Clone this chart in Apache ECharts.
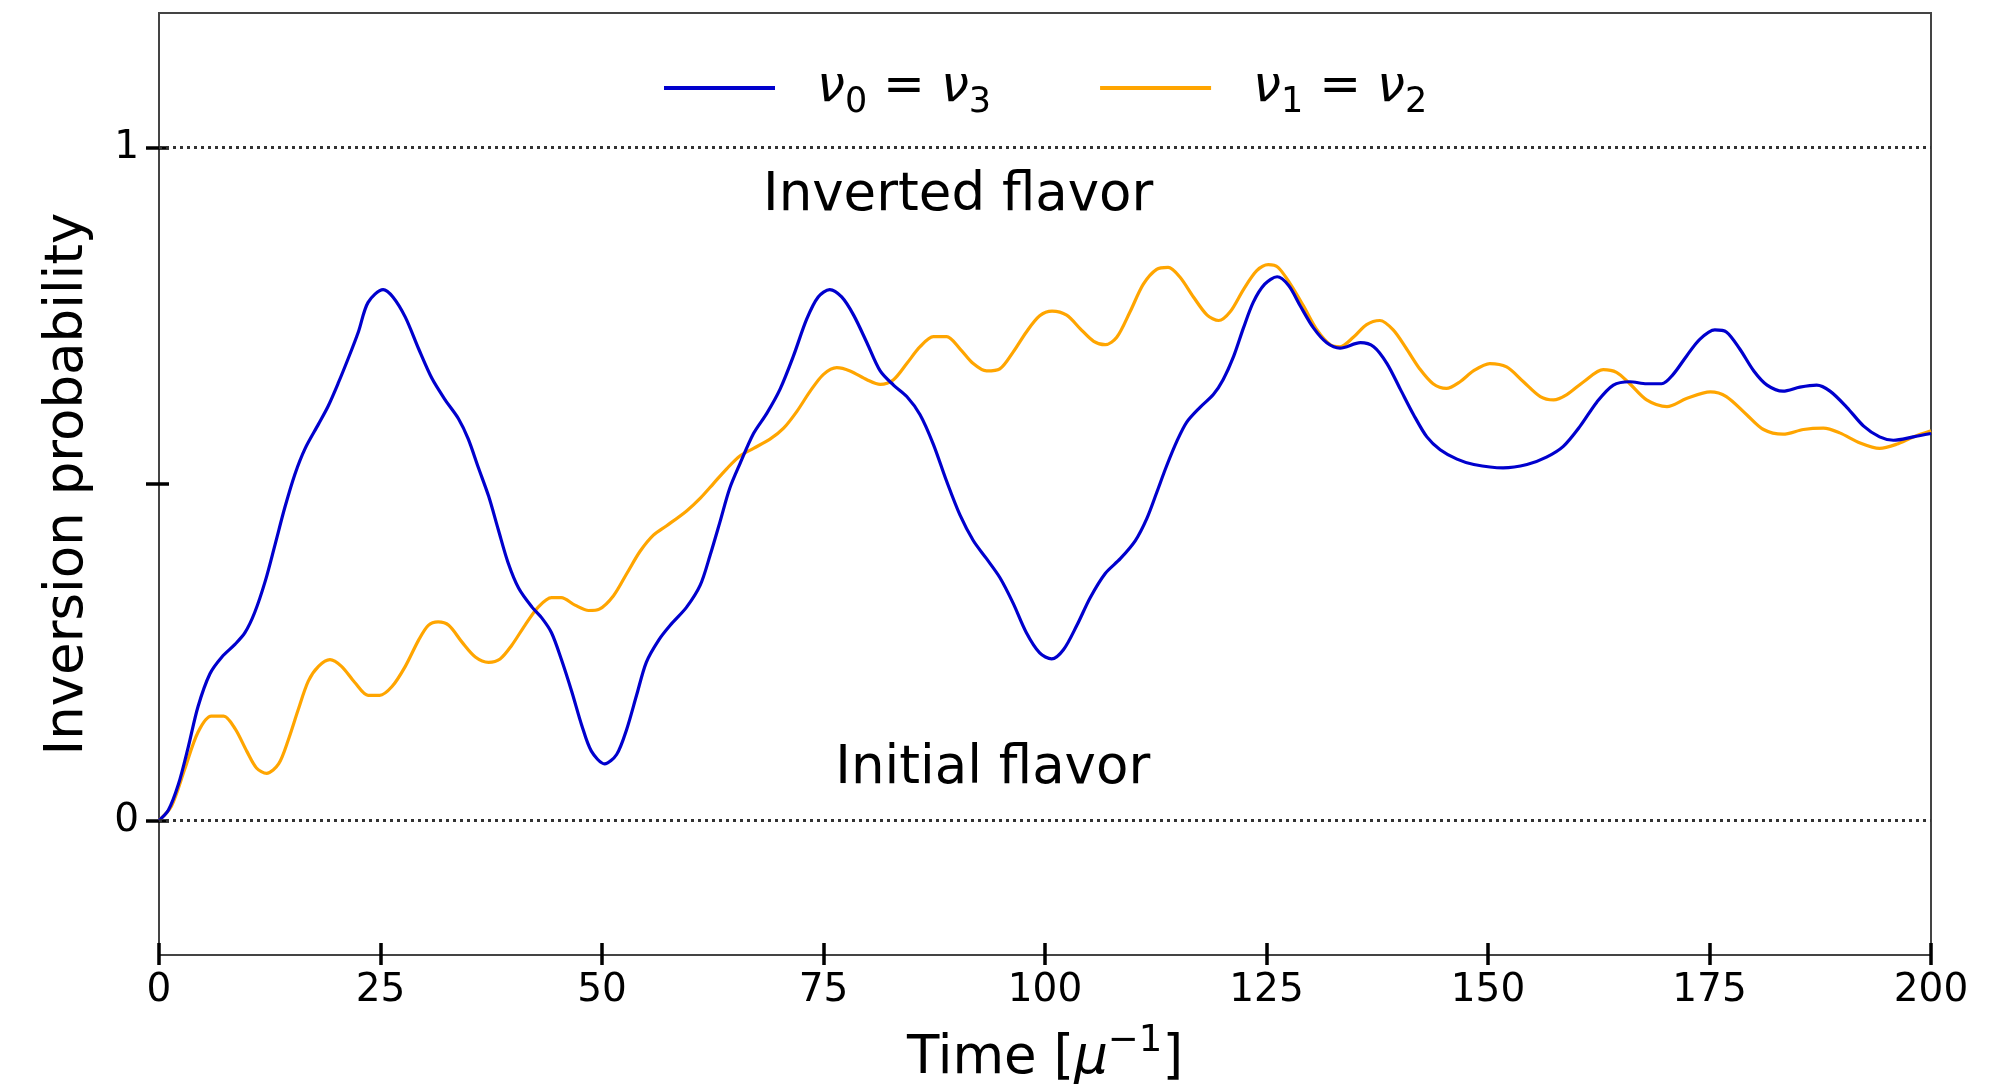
<!DOCTYPE html>
<html>
<head>
<meta charset="utf-8">
<script src="https://cdn.jsdelivr.net/npm/echarts@6/dist/echarts.min.js"></script>
<style>
  html, body { margin: 0; padding: 0; background: #fff; }
  #chart { width: 2012px; height: 1086px; }
</style>
</head>
<body>
<div id="chart"></div>
<script>
// values: [time, inversion probability]
const seriesNames = ["nu0=nu3", "nu1=nu2"]
const seriesColors = ["#0000CD", "#FFA500"]

const blueCurve = [
  [0, 0], [1.05, 0.015], [2.2, 0.054], [3.3, 0.109], [4.4, 0.169], [5.75, 0.218], [7.1, 0.243],
  [8.6, 0.262], [9.7, 0.279], [10.8, 0.309], [12.0, 0.356], [13.1, 0.41], [14.2, 0.465],
  [15.35, 0.515], [16.5, 0.553], [18.0, 0.589], [19.1, 0.616], [20.2, 0.649], [21.4, 0.688],
  [22.5, 0.726], [23.6, 0.77], [25.3, 0.789], [26.4, 0.778], [27.8, 0.748], [29.3, 0.701],
  [30.8, 0.657], [32.3, 0.625], [33.8, 0.597], [34.9, 0.567], [36.0, 0.526], [37.2, 0.482],
  [38.3, 0.432], [39.4, 0.383], [40.6, 0.345], [42.1, 0.317], [43.2, 0.301], [44.3, 0.279],
  [45.4, 0.24], [46.6, 0.191], [47.7, 0.142], [48.8, 0.103], [50.3, 0.084], [51.65, 0.098],
  [52.8, 0.136], [53.9, 0.186], [55.0, 0.235], [56.4, 0.268], [57.7, 0.29], [59.55, 0.317],
  [61.1, 0.35], [62.2, 0.394], [63.3, 0.443], [64.4, 0.493], [65.6, 0.531], [67.1, 0.575],
  [68.6, 0.605], [70.1, 0.641], [71.6, 0.69], [73.1, 0.745], [74.4, 0.778], [75.7, 0.789],
  [77.05, 0.778], [78.4, 0.751], [79.9, 0.71], [81.4, 0.668], [82.9, 0.647], [84.4, 0.63],
  [85.9, 0.603], [87.4, 0.559], [88.9, 0.504], [90.4, 0.454], [91.9, 0.416], [93.4, 0.389],
  [94.9, 0.361], [96.4, 0.323], [97.9, 0.279], [99.4, 0.249], [100.75, 0.24], [102.1, 0.254],
  [103.6, 0.29], [105.1, 0.331], [106.8, 0.367], [108.5, 0.389], [110.2, 0.416], [111.5, 0.449],
  [112.6, 0.487], [113.7, 0.526], [114.9, 0.564], [116.0, 0.592], [117.5, 0.614], [119.0, 0.633],
  [120.1, 0.655], [121.3, 0.69], [122.4, 0.732], [123.5, 0.77], [124.8, 0.797], [126.2, 0.808],
  [127.5, 0.795], [128.8, 0.765], [130.3, 0.732], [131.8, 0.71], [133.3, 0.702], [135.6, 0.71],
  [137.1, 0.704], [138.6, 0.679], [140.1, 0.641], [141.6, 0.603], [143.1, 0.57], [144.6, 0.551],
  [146.5, 0.537], [148.4, 0.529], [151.7, 0.524], [154.4, 0.529], [156.6, 0.54], [158.5, 0.556],
  [160.4, 0.586], [162.3, 0.622], [164.15, 0.647], [166.0, 0.652], [167.9, 0.649], [169.6, 0.649],
  [170.9, 0.663], [172.4, 0.69], [173.9, 0.715], [175.6, 0.729], [176.9, 0.726], [178.4, 0.701],
  [180.0, 0.668], [181.5, 0.647], [183.3, 0.638], [185.2, 0.644], [187.1, 0.647], [188.6, 0.638],
  [190.5, 0.614], [192.4, 0.586], [194.2, 0.57], [195.75, 0.565], [198.0, 0.57], [200, 0.575]
]

const orangeCurve = [
  [0, 0], [1.4, 0.021], [2.9, 0.076], [4.4, 0.131], [5.9, 0.155], [7.3, 0.155], [8.6, 0.136],
  [9.9, 0.103], [11.0, 0.078], [12.15, 0.07], [13.5, 0.084], [14.6, 0.12], [15.7, 0.164],
  [16.85, 0.207], [18.0, 0.229], [19.3, 0.239], [20.6, 0.229], [22.1, 0.205], [23.6, 0.186],
  [24.9, 0.186], [26.3, 0.199], [27.8, 0.229], [29.3, 0.268], [30.4, 0.29], [31.5, 0.295],
  [32.7, 0.29], [34.2, 0.265], [35.7, 0.243], [37.2, 0.235], [38.5, 0.24], [39.8, 0.26],
  [41.3, 0.29], [42.8, 0.317], [44.3, 0.331], [45.4, 0.331], [46.95, 0.32], [48.5, 0.312],
  [49.7, 0.314], [51.3, 0.334], [52.8, 0.367], [54.3, 0.4], [55.8, 0.424], [57.3, 0.438],
  [59.55, 0.46], [61.1, 0.479], [62.6, 0.501], [64.1, 0.523], [65.6, 0.542], [67.1, 0.553],
  [69.0, 0.567], [70.5, 0.583], [72.0, 0.608], [73.5, 0.638], [75.0, 0.663], [76.5, 0.673],
  [78.0, 0.668], [79.9, 0.655], [81.4, 0.648], [82.9, 0.655], [84.4, 0.679], [85.9, 0.704],
  [87.4, 0.719], [88.9, 0.719], [90.4, 0.701], [91.9, 0.679], [93.4, 0.668], [94.9, 0.671],
  [96.4, 0.696], [97.9, 0.726], [99.4, 0.75], [100.8, 0.757], [102.45, 0.751], [103.96, 0.731],
  [105.5, 0.712], [106.8, 0.707], [108.1, 0.718], [109.6, 0.756], [111.1, 0.797], [112.6, 0.819],
  [113.9, 0.822], [115.2, 0.808], [116.75, 0.778], [118.3, 0.751], [119.6, 0.743], [120.9, 0.756],
  [122.4, 0.789], [123.9, 0.817], [125.2, 0.826], [126.3, 0.822], [127.7, 0.797], [129.2, 0.764],
  [130.7, 0.729], [132.2, 0.707], [133.3, 0.704], [134.8, 0.718], [136.3, 0.737], [137.8, 0.743],
  [139.3, 0.729], [140.8, 0.701], [142.3, 0.671], [143.8, 0.649], [145.3, 0.642], [146.85, 0.652],
  [148.35, 0.668], [150.2, 0.679], [152.1, 0.674], [154.0, 0.652], [155.9, 0.63], [157.4, 0.625],
  [158.9, 0.633], [160.8, 0.652], [163.0, 0.67], [164.5, 0.666], [166.0, 0.649], [167.9, 0.625],
  [170.2, 0.615], [172.4, 0.627], [175.1, 0.637], [176.9, 0.63], [179.2, 0.603], [181.1, 0.581],
  [183.3, 0.574], [185.6, 0.581], [187.85, 0.583], [189.7, 0.576], [192.0, 0.561], [194.2, 0.553],
  [196.1, 0.559], [198.0, 0.57], [200, 0.579]
]

const xTicks = [0, 25, 50, 75, 100, 125, 150, 175, 200]
const yTicks = [0, 0.5, 1]
const yTickLabels = [0, 1]
const referenceLevels = [0, 1]

const annotationText = ["Inverted flavor", "Initial flavor"]
const annotationAt = [[90.2, 0.927], [94.1, 0.076]]

const FONT = "'DejaVu Sans', sans-serif"

const legendLabels = {
  "nu0=nu3": "{v|ν}{s|0}{e| = }{v|ν}{s|3}",
  "nu1=nu2": "{v|ν}{s|1}{e| = }{v|ν}{s|2}",
}

const chart = echarts.init(document.getElementById("chart"), null, { renderer: "canvas" })

const tickStyle = { color: "#000", width: 3.5 }

chart.setOption({
  animation: false,
  backgroundColor: "#fff",
  textStyle: { fontFamily: FONT },
  grid: {
    left: 159, right: 81, top: 13, bottom: 131,
    show: true, borderColor: "#444", borderWidth: 2,
    outerBoundsMode: "none",
  },
  legend: {
    left: 659,
    top: 58,
    icon: "rect",
    itemWidth: 111,
    itemHeight: 4,
    itemGap: 109,
    data: seriesNames,
    formatter: name => legendLabels[name],
    textStyle: {
      fontFamily: FONT,
      fontSize: 50,
      color: "#000",
      padding: [0, 0, 0, 37],
      rich: {
        v: { fontFamily: FONT, fontStyle: "italic", fontSize: 50, color: "#000" },
        s: { fontFamily: FONT, fontSize: 35, color: "#000", padding: [30, 0, 0, 0] },
        e: { fontFamily: FONT, fontSize: 50, color: "#000" },
      },
    },
  },
  xAxis: [
    {
      type: "value", min: 0, max: 200, interval: 25,
      axisLine: { show: false, onZero: false },
      axisTick: { show: true, inside: false, length: 10, lineStyle: tickStyle },
      axisLabel: { fontFamily: FONT, fontSize: 39, color: "#000", margin: 16, customValues: xTicks },
      splitLine: { show: false },
      name: "{t|Time [}{m|μ}{p|−1}{t|]}",
      nameLocation: "middle",
      nameGap: 68,
      nameTextStyle: {
        fontFamily: FONT, fontSize: 53, color: "#000",
        rich: {
          t: { fontFamily: FONT, fontSize: 53, color: "#000" },
          m: { fontFamily: FONT, fontSize: 53, fontStyle: "italic", color: "#000" },
          p: { fontFamily: FONT, fontSize: 37, color: "#000", padding: [0, 0, 36, 0] },
        },
      },
    },
    {
      type: "value", min: 0, max: 200, interval: 25, position: "bottom",
      axisLine: { show: false, onZero: false },
      axisTick: { show: true, inside: true, length: 12, lineStyle: tickStyle },
      axisLabel: { show: false },
      splitLine: { show: false },
    },
  ],
  yAxis: [
    {
      type: "value", min: -0.2, max: 1.2, interval: 0.1,
      axisLine: { show: false, onZero: false },
      axisTick: { show: true, inside: false, length: 13, lineStyle: tickStyle, customValues: yTicks },
      axisLabel: { fontFamily: FONT, fontSize: 39, color: "#000", margin: 20, customValues: yTickLabels },
      splitLine: { show: false },
      name: "Inversion probability",
      nameLocation: "middle",
      nameGap: 64,
      nameTextStyle: { fontFamily: FONT, fontSize: 53, color: "#000" },
    },
    {
      type: "value", min: -0.2, max: 1.2, interval: 0.1, position: "left",
      axisLine: { show: false, onZero: false },
      axisTick: { show: true, inside: true, length: 10, lineStyle: tickStyle, customValues: yTicks },
      axisLabel: { show: false },
      splitLine: { show: false },
    },
  ],
  series: [
    {
      name: seriesNames[0],
      type: "line",
      data: blueCurve,
      smooth: 0.3,
      showSymbol: false,
      z: 4,
      lineStyle: { color: seriesColors[0], width: 3.2 },
      itemStyle: { color: seriesColors[0] },
      markPoint: {
        silent: true,
        symbol: "circle",
        symbolSize: 0,
        data: annotationText.map((t, i) => ({ name: t, coord: annotationAt[i] })),
        label: {
          show: true, position: "inside", formatter: p => p.name,
          fontFamily: FONT, fontSize: 53, color: "#000",
        },
      },
    },
    {
      name: seriesNames[1],
      type: "line",
      data: orangeCurve,
      smooth: 0.3,
      showSymbol: false,
      z: 3,
      lineStyle: { color: seriesColors[1], width: 3.2 },
      itemStyle: { color: seriesColors[1] },
      markLine: {
        silent: true,
        symbol: ["none", "none"],
        label: { show: false },
        lineStyle: { type: [3, 4], color: "#333", width: 3 },
        data: referenceLevels.map(v => ({ yAxis: v })),
      },
    },
  ],
})
</script>
</body>
</html>
